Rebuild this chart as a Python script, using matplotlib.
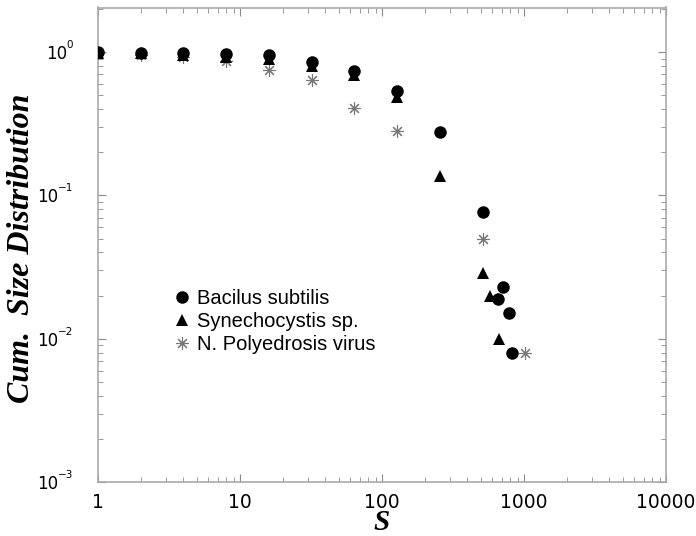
import matplotlib
matplotlib.use("Agg")
import matplotlib.pyplot as plt
from matplotlib.ticker import FixedLocator, FixedFormatter, LogLocator, NullFormatter
from matplotlib.transforms import blended_transform_factory, ScaledTranslation

# Data
bac_x = [1, 2, 4, 8, 16, 32, 64, 128, 256, 512, 653, 715, 788, 823]
bac_y = [1.0, 0.99, 0.99, 0.97, 0.96, 0.85, 0.74, 0.536, 0.277, 0.0764, 0.0190, 0.0228, 0.0150, 0.0079]

syn_x = [1, 2, 4, 8, 16, 32, 64, 128, 256, 512, 576, 670]
syn_y = [0.99, 0.98, 0.96, 0.93, 0.89, 0.80, 0.69, 0.487, 0.136, 0.0286, 0.0200, 0.00995]

npv_x = [1, 2, 4, 8, 16, 32, 64, 128, 512, 1024]
npv_y = [0.98, 0.96, 0.93, 0.865, 0.748, 0.637, 0.408, 0.280, 0.050, 0.0079]

labels = ["Bacilus subtilis", "Synechocystis sp.", "N. Polyedrosis virus"]
xticks = [1, 10, 100, 1000, 10000]
xticklabels = ["1", "10", "100", "1000", "10000"]
yticks = [1e-3, 1e-2, 1e-1, 1e0]
ytick_base = "10"
ytick_exps = ["\u22123", "\u22122", "\u22121", "0"]

fig = plt.figure(figsize=(6.96, 5.36), dpi=100)
ax = fig.add_axes([98/696, 1 - 482/536, (666 - 98)/696, (482 - 7.5)/536])

ax.set_xscale("log")
ax.set_yscale("log")

h3, = ax.plot(npv_x, npv_y, linestyle="none", marker=(8, 2, 0), markersize=9,
              markeredgewidth=0.8, color="#777777", label=labels[2], zorder=3)
h2, = ax.plot(syn_x, syn_y, linestyle="none", marker="^", markersize=8.5,
              color="black", markeredgewidth=0, label=labels[1], zorder=4)
h1, = ax.plot(bac_x, bac_y, linestyle="none", marker="o", markersize=9,
              color="black", markeredgewidth=0, label=labels[0], zorder=5)

ax.set_xlim(1, 10000)
ax.set_ylim(1e-3, 2.05)

ax.xaxis.set_major_locator(FixedLocator(xticks))
ax.xaxis.set_major_formatter(FixedFormatter(xticklabels))
ax.xaxis.set_minor_locator(LogLocator(base=10, subs=range(2, 10), numticks=20))
ax.xaxis.set_minor_formatter(NullFormatter())
ax.yaxis.set_major_locator(FixedLocator(yticks))
ax.yaxis.set_minor_locator(LogLocator(base=10, subs=range(2, 10), numticks=20))
ax.yaxis.set_minor_formatter(NullFormatter())

spine_color = "#aaaaaa"
for s in ax.spines.values():
    s.set_color(spine_color)
    s.set_linewidth(1.2)

ax.tick_params(which="both", direction="in", top=True, right=True, color="#888888")
ax.tick_params(which="major", length=6, width=0.8)
ax.tick_params(axis="x", which="major", pad=8, labelsize=13.5)
ax.tick_params(axis="y", which="major", labelleft=False)
ax.tick_params(which="minor", length=3.5, width=0.6)
for lab in ax.get_xticklabels():
    lab.set_family("DejaVu Sans")

# y tick labels: "10" with a small raised exponent
trans = blended_transform_factory(ax.transAxes, ax.transData)
exp_right = (73 - 98) / 568
up = ScaledTranslation(0, 2 / 100, fig.dpi_scale_trans)
exp_texts = []
for val, ex in zip(yticks, ytick_exps):
    t = ax.text(exp_right, val, ex, transform=trans + up, ha="right", va="bottom",
                fontsize=7.5, family="DejaVu Sans", clip_on=False)
    exp_texts.append(t)
fig.canvas.draw()
renderer = fig.canvas.get_renderer()
for val, t in zip(yticks, exp_texts):
    bb = t.get_window_extent(renderer)
    xl = ax.transAxes.inverted().transform((bb.x0 + 0.5, 0))[0]
    ax.text(xl, val, ytick_base, transform=trans, ha="right", va="center_baseline",
            fontsize=12, family="DejaVu Sans", clip_on=False)

ax.set_xlabel("S", fontsize=21, fontfamily="Liberation Serif", fontstyle="italic",
              fontweight="bold", va="baseline")
ax.xaxis.set_label_coords(0.5, (482 - 530.5) / 474.5)
ax.set_ylabel("Cum.  Size Distribution", fontsize=23, fontfamily="Liberation Serif",
              fontstyle="italic", fontweight="bold", va="baseline")
ax.yaxis.set_label_coords((29 - 98) / 568, (482 - 248.5) / 474.5)

leg = ax.legend(handles=[h1, h2, h3], loc="upper left", bbox_to_anchor=(0.134, 0.406),
                frameon=False, handlelength=0.8, handletextpad=0.35, labelspacing=0.2,
                borderpad=0, borderaxespad=0,
                prop={"family": "Liberation Sans", "size": 14.5})

fig.savefig("out.png", dpi=100, facecolor="white")
